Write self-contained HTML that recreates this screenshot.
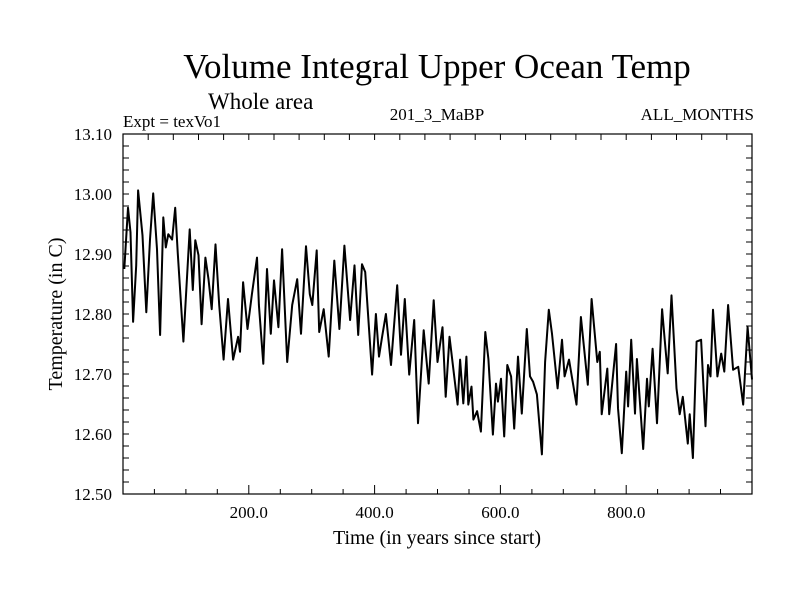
<!DOCTYPE html>
<html><head><meta charset="utf-8"><style>
html,body{margin:0;padding:0;background:#fff;}
svg{display:block;font-family:"Liberation Serif",serif;}
</style></head><body>
<svg id="chart" width="800" height="600" viewBox="0 0 800 600">
<rect width="800" height="600" fill="#fff"/>
<text x="437" y="78" font-size="35" text-anchor="middle">Volume Integral Upper Ocean Temp</text>
<text x="208" y="109" font-size="23">Whole area</text>
<text x="123" y="127" font-size="17">Expt = texVo1</text>
<text x="437" y="120" font-size="17" text-anchor="middle">201_3_MaBP</text>
<text x="754" y="120" font-size="17" text-anchor="end">ALL_MONTHS</text>
<text transform="translate(62,314) rotate(-90)" font-size="20" text-anchor="middle">Temperature (in C)</text>
<text x="437" y="544" font-size="20" text-anchor="middle">Time (in years since start)</text>
<g id="axes"></g>
<g id="plot"></g>
</svg>
<script>
const years = [2,8,12,16,21,24,31,37,43,48,54,59,64,68,72,78,83,87,96,106,111,115,120,125,131,136,141,147,153,160,167,175,183,186,191,198,205,213,216,223,229,235,240,247,253,261,269,277,283,291,297,301,308,312,319,327,336,344,352,361,368,374,380,385,396,402,407,412,418,426,436,442,448,455,463,469,478,486,494,500,508,513,519,527,532,536,541,546,549,554,557,563,569,576,581,588,593,596,601,606,611,617,622,628,634,642,647,652,658,666,671,677,682,691,698,702,709,721,728,739,745,754,758,761,770,773,784,787,793,800,803,808,814,817,827,833,836,842,849,857,861,866,872,880,885,890,898,901,906,912,919,926,930,934,938,945,951,956,962,970,978,986,993,1000];
const temps = [12.875,12.977,12.936,12.787,12.881,13.006,12.931,12.803,12.924,13.001,12.908,12.765,12.961,12.911,12.933,12.924,12.977,12.903,12.754,12.941,12.840,12.923,12.898,12.783,12.894,12.858,12.808,12.916,12.815,12.724,12.825,12.724,12.762,12.737,12.853,12.775,12.833,12.894,12.815,12.717,12.875,12.767,12.856,12.778,12.908,12.720,12.815,12.858,12.767,12.913,12.833,12.815,12.906,12.770,12.808,12.729,12.889,12.775,12.914,12.790,12.881,12.765,12.883,12.870,12.699,12.800,12.729,12.762,12.800,12.715,12.848,12.732,12.825,12.699,12.790,12.618,12.773,12.684,12.823,12.720,12.778,12.662,12.762,12.692,12.649,12.724,12.651,12.729,12.649,12.679,12.624,12.638,12.604,12.770,12.725,12.599,12.684,12.654,12.692,12.596,12.715,12.696,12.609,12.729,12.634,12.775,12.696,12.687,12.666,12.566,12.720,12.807,12.767,12.676,12.757,12.696,12.724,12.649,12.795,12.682,12.825,12.720,12.737,12.633,12.709,12.633,12.750,12.643,12.568,12.704,12.646,12.757,12.634,12.725,12.575,12.692,12.646,12.742,12.618,12.808,12.759,12.701,12.831,12.676,12.633,12.662,12.584,12.633,12.560,12.754,12.757,12.613,12.715,12.696,12.807,12.696,12.734,12.704,12.815,12.707,12.712,12.649,12.778,12.691];
const yTickValues = [12.50,12.60,12.70,12.80,12.90,13.00,13.10];
const yTickLabels = ["12.50","12.60","12.70","12.80","12.90","13.00","13.10"];
const xTickValues = [200,400,600,800];
const xTickLabels = ["200.0","400.0","600.0","800.0"];

const L=123,R=752,T=134,B=494, X0=0,X1=1000, Y0=12.5,Y1=13.1;
const xs=v=>L+(v-X0)/(X1-X0)*(R-L);
const ys=v=>B-(v-Y0)/(Y1-Y0)*(B-T);
const NS="http://www.w3.org/2000/svg";
const axes=document.getElementById('axes'), plot=document.getElementById('plot');
function mk(tag,attrs,parent){const e=document.createElementNS(NS,tag);for(const k in attrs)e.setAttribute(k,attrs[k]);parent.appendChild(e);return e;}

const frame=mk('rect',{x:L,y:T,width:R-L,height:B-T,fill:'none',stroke:'#000','stroke-width':1.2},axes);



let d='';
for(let v=12.5;v<=13.1001;v+=0.02){const y=ys(v).toFixed(1);d+=`M${L} ${y}h6M${R} ${y}h-6`;}
for(let v=50;v<1000;v+=50){const x=xs(v).toFixed(1);const len=(v%200===0)?9:5;d+=`M${x} ${B}v-${len}`;}
for(let v=40;v<1000;v+=40){const x=xs(v).toFixed(1);d+=`M${x} ${T}v6`;}
const ticks=mk('path',{d:d,stroke:'#000','stroke-width':1,fill:'none'},axes);



yTickValues.forEach((v,i)=>{
  const t=mk('text',{x:112,y:ys(v)+6,'font-size':17,'text-anchor':'end'},axes);
  t.textContent=yTickLabels[i];
  
  
});
xTickValues.forEach((v,i)=>{
  const t=mk('text',{x:xs(v),y:518,'font-size':17,'text-anchor':'middle'},axes);
  t.textContent=xTickLabels[i];
  
  
});

const pts=years.map((yr,i)=>xs(yr).toFixed(1)+','+ys(temps[i]).toFixed(1)).join(' ');
const line=mk('polyline',{points:pts,fill:'none',stroke:'#000','stroke-width':2,'stroke-linejoin':'round'},plot);


</script>
</body></html>
